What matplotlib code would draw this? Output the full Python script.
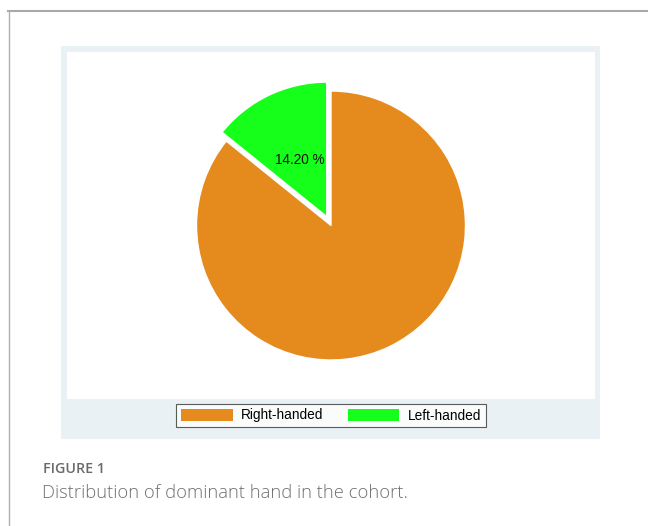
import matplotlib.pyplot as plt
from matplotlib.patches import Rectangle, Patch
from matplotlib.lines import Line2D

# dominant hand split in the cohort (percent)
hands = ["Right-handed", "Left-handed"]
shares = [85.8, 14.2]
colors = ["#E58B1D", "#16FF1A"]

W, H = 648, 526


def fx(px):
    return px / W


def fy(py):
    return 1 - py / H


plt.rcParams["font.family"] = ["Liberation Sans", "DejaVu Sans"]

fig = plt.figure(figsize=(W / 100, H / 100), dpi=100)
fig.patch.set_facecolor("white")

# page frame (top and left rules)
fig.add_artist(Line2D([fx(8), 1], [fy(11), fy(11)], color="#a8a8a8", lw=1.5))
fig.add_artist(Line2D([fx(9), fx(9)], [fy(11), 0], color="#b0b0b0", lw=1.0))

# tinted panel with white plotting area
fig.patches.append(Rectangle((fx(61), fy(439)), fx(600) - fx(61), fy(46) - fy(439),
                             transform=fig.transFigure, facecolor="#e9f1f4",
                             edgecolor="none", zorder=0))
fig.patches.append(Rectangle((fx(67), fy(399)), fx(595) - fx(67), fy(52) - fy(399),
                             transform=fig.transFigure, facecolor="white",
                             edgecolor="none", zorder=0))

ax = fig.add_axes([fx(67), fy(399), fx(595) - fx(67), fy(52) - fy(399)], zorder=2)
ax.patch.set_alpha(0)

wedges, _, autotexts = ax.pie(
    shares, colors=colors, startangle=90, counterclock=False,
    explode=[0, 0.073], autopct=lambda p: "" if p > 50 else f"{p:.2f} %",
    pctdistance=0.47, wedgeprops=dict(edgecolor="white", linewidth=1),
    textprops=dict(fontsize=9.8, color="#111111"))

r_px = 134.5
ax.set_aspect("auto")
ax.set_xlim(-(595 - 67) / 2 / r_px, (595 - 67) / 2 / r_px)
ax.set_ylim(-(399 - 52) / 2 / r_px, (399 - 52) / 2 / r_px)
ax.axis("off")

handles = [Patch(facecolor=c, edgecolor="none") for c in colors]
leg = fig.legend(handles, hands, loc="center",
                 bbox_to_anchor=(fx(331), fy(415.5)), ncol=2,
                 frameon=True, fancybox=False, edgecolor="#333333",
                 handlelength=3.8, handleheight=1.05, handletextpad=0.6,
                 columnspacing=1.8, borderpad=0.35, fontsize=9.8)
leg.get_frame().set_linewidth(0.8)
leg.set_zorder(3)

fig.text(fx(43), fy(473), "FIGURE 1", family=["Open Sans", "DejaVu Sans"],
         fontsize=10.3, fontweight="semibold", color="#6a6a6a", va="baseline")
fig.text(fx(42), fy(498), "Distribution of dominant hand in the cohort.",
         family=["Open Sans", "DejaVu Sans"], fontsize=13.2, fontweight="light",
         color="#707070", va="baseline")

fig.savefig("out.png", dpi=100)
